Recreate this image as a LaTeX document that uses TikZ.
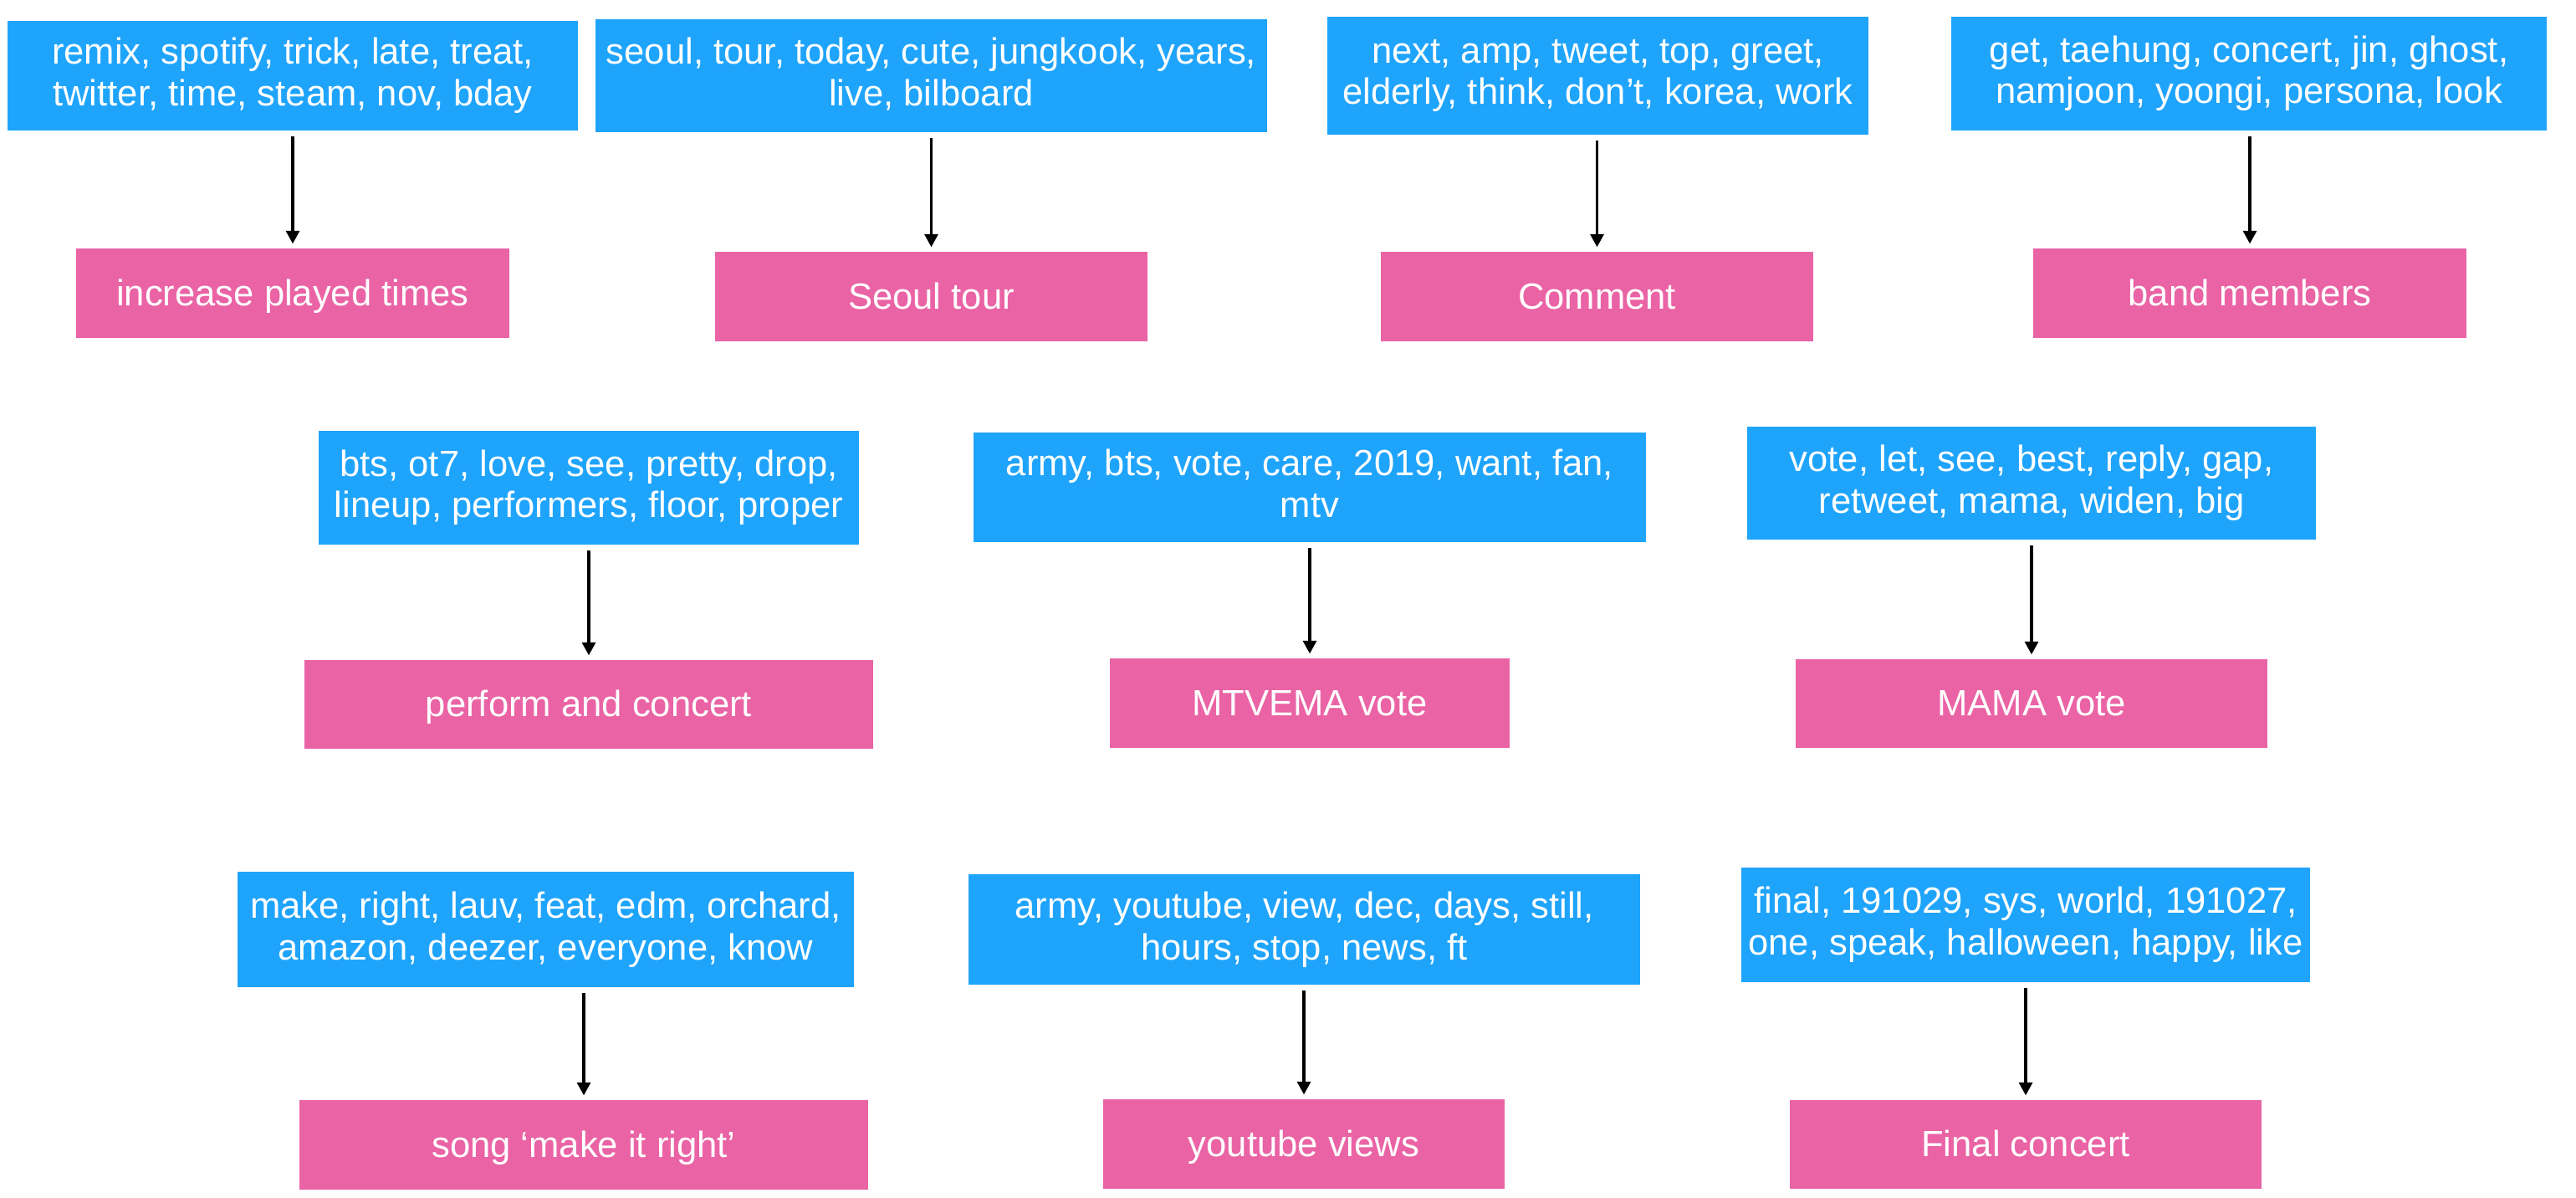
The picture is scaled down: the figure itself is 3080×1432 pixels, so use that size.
\documentclass[tikz,border=0pt]{standalone}
\usepackage{fontspec}
\setmainfont{Liberation Sans}
\usetikzlibrary{arrows.meta}
\definecolor{kblue}{HTML}{1FA4FC}
\definecolor{kpink}{HTML}{EA63A5}
\tikzset{
  box/.style={rectangle, inner sep=0pt, align=center, text=white,
    font=\fontsize{10.9}{12.4}\selectfont,
    execute at end node={\rule[-2.3pt]{0pt}{2.3pt}}},
  bluebox/.style={box, fill=kblue, execute at begin node={\rule{0pt}{10.2pt}}},
  pinkbox/.style={box, fill=kpink, execute at begin node={\rule{0pt}{9.6pt}}},
  arr/.style={draw=black, line width=0.85pt, -{Triangle[length=3.9pt,width=4pt]}}
}
\begin{document}
\begin{tikzpicture}[x=0.25pt,y=-0.25pt]
\path[use as bounding box, fill=white] (0,0) rectangle (3080,1432);
% row 1
\node[bluebox, minimum width=170.5pt, minimum height=32.75pt] (b1) at (350,90.5) {remix, spotify, trick, late, treat,\\twitter, time, steam, nov, bday};
\node[bluebox, minimum width=200.75pt, minimum height=33.75pt] (b2) at (1113.5,90.5) {seoul, tour, today, cute, jungkook, years,\\live, bilboard};
\node[bluebox, minimum width=161.75pt, minimum height=35.25pt] (b3) at (1910.5,90.5) {next, amp, tweet, top, greet,\\elderly, think, don’t, korea, work};
\node[bluebox, minimum width=178pt, minimum height=34pt] (b4) at (2689,88) {get, taehung, concert, jin, ghost,\\namjoon, yoongi, persona, look};
\node[pinkbox, minimum width=129.5pt, minimum height=26.75pt] (p1) at (350,350.5) {increase played times};
\node[pinkbox, minimum width=129.25pt, minimum height=26.75pt] (p2) at (1113.5,354.5) {Seoul tour};
\node[pinkbox, minimum width=129.25pt, minimum height=26.75pt] (p3) at (1909.5,354.5) {Comment};
\node[pinkbox, minimum width=129.5pt, minimum height=26.75pt] (p4) at (2690,350.5) {band members};
% row 2
\node[bluebox, minimum width=161.5pt, minimum height=34pt] (b5) at (704,583) {bts, ot7, love, see, pretty, drop,\\lineup, performers, floor, proper};
\node[bluebox, minimum width=201pt, minimum height=32.75pt] (b6) at (1566,582.5) {army, bts, vote, care, 2019, want, fan,\\mtv};
\node[bluebox, minimum width=170pt, minimum height=33.75pt] (b7) at (2429,577.5) {vote, let, see, best, reply, gap,\\retweet, mama, widen, big};
\node[pinkbox, minimum width=170pt, minimum height=26.5pt] (p5) at (704,842) {perform and concert};
\node[pinkbox, minimum width=119.5pt, minimum height=26.75pt] (p6) at (1566,840.5) {MTVEMA vote};
\node[pinkbox, minimum width=141pt, minimum height=26.5pt] (p7) at (2429,841) {MAMA vote};
% row 3
\node[bluebox, minimum width=184.25pt, minimum height=34.5pt] (b8) at (652.5,1111) {make, right, lauv, feat, edm, orchard,\\amazon, deezer, everyone, know};
\node[bluebox, minimum width=200.75pt, minimum height=33pt] (b9) at (1559.5,1111) {army, youtube, view, dec, days, still,\\hours, stop, news, ft};
\node[bluebox, minimum width=170pt, minimum height=34.25pt] (b10) at (2422,1105.5) {final, 191029, sys, world, 191027,\\one, speak, halloween, happy, like};
\node[pinkbox, minimum width=170pt, minimum height=26.75pt] (p8) at (698,1368.5) {song ‘make it right’};
\node[pinkbox, minimum width=120pt, minimum height=26.75pt] (p9) at (1559,1367.5) {youtube views};
\node[pinkbox, minimum width=141pt, minimum height=26.5pt] (p10) at (2422,1368) {Final concert};
% arrows
\foreach \b/\p in {b1/p1,b2/p2,b3/p3,b4/p4,b5/p5,b6/p6,b7/p7,b8/p8,b9/p9,b10/p10}{
  \draw[arr] ([yshift=-1.6pt]\b.south -| \p.north) -- ([yshift=1.2pt]\p.north);
}
\end{tikzpicture}
\end{document}
